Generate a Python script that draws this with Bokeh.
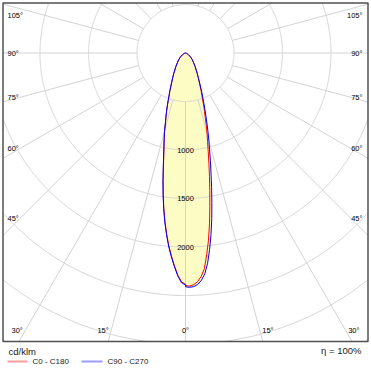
import numpy as np
from bokeh.plotting import figure
from bokeh.core.properties import value
from bokeh.embed import file_html
from bokeh.resources import INLINE

# ---------------- data (cd/klm) ----------------
gamma = [0, 1, 2, 3, 4, 5, 6, 7, 8, 9, 10, 11, 12, 13, 14, 15, 16, 17, 18, 19, 20,
         22.5, 25, 27.5, 30, 35, 40, 45, 50, 55, 60, 65, 70, 75, 80, 85, 90]
c0 = [2398, 2404, 2390, 2362, 2310, 2232, 2090, 1945, 1778, 1605, 1440, 1295,
      1160, 1042, 940, 860, 780, 695, 635, 578, 521,
      420, 340, 283, 240, 175, 130, 100, 75, 52, 35, 22, 14, 8, 4, 2, 0]
c180 = [2385, 2360, 2290, 2195, 2095, 1990, 1870, 1745, 1610, 1470, 1330, 1195,
        1080, 985, 905, 835, 750, 690, 630, 575, 521,
        420, 340, 285, 240, 175, 130, 100, 75, 52, 35, 22, 14, 8, 4, 2, 0]
c90 = [2410, 2416, 2410, 2390, 2350, 2285, 2180, 2040, 1890, 1730, 1565, 1410,
       1265, 1140, 1025, 930, 840, 755, 680, 615, 555,
       440, 350, 287, 240, 175, 130, 100, 75, 52, 35, 22, 14, 8, 4, 2, 0]
c270 = [2392, 2368, 2298, 2203, 2103, 1998, 1878, 1752, 1617, 1476, 1336, 1200,
        1085, 990, 908, 838, 753, 692, 632, 576, 522,
        420, 340, 285, 240, 175, 130, 100, 75, 52, 35, 22, 14, 8, 4, 2, 0]
ring_values = [500, 1000, 1500, 2000, 2500, 3000, 3500]
ring_labels = [1000, 1500, 2000]
spoke_step = 15
side_angles = [45, 60, 75, 90, 105]
bottom_angles = [0, 15, 30]
unit_label = "cd/klm"
legend_labels = ["C0 - C180", "C90 - C270"]
efficiency_label = "\u03b7 = 100%"

# ---------------- layout helpers ----------------
PX = 0.097          # layout pixels per cd/klm
CX, CY = 185.0, 52.5
W, H = 371, 372


def L(X, Y):
    return (X - CX) / PX, (CY - Y) / PX


FONT = value("Liberation Sans")
left, top = L(2.5, 2.5)
right, bottom = L(367.5, 341.0)
xr0, yr1 = L(0, 0)
xr1, yr0 = L(W, H)

p = figure(width=W, height=H, x_range=(xr0, xr1), y_range=(yr0, yr1),
           output_backend="svg", toolbar_location=None, min_border=0)
p.axis.visible = False
p.grid.visible = False
p.outline_line_color = None
p.background_fill_color = "white"


def outline(lside, rside):
    g = np.radians(gamma)
    lv = np.array(lside, float)
    rv = np.array(rside, float)
    xl, yl = -lv * np.sin(g), -lv * np.cos(g)
    xr, yr = rv * np.sin(g), -rv * np.cos(g)
    return np.concatenate([xl[::-1], xr]), np.concatenate([yl[::-1], yr])


xa, ya = outline(c180, c0)
xb, yb = outline(c270, c90)
fill = "#fdfcc4"
p.patch(xa, ya, fill_color=fill, line_color=None)
p.patch(xb, yb, fill_color=fill, line_color=None)

# rings clipped to the frame
grid_color = "#d4d4d4"
th = np.linspace(0, 2 * np.pi, 1441)
xs, ys = [], []
for r in ring_values:
    x = r * np.cos(th)
    y = r * np.sin(th)
    m = (x < left) | (x > right) | (y > top) | (y < bottom)
    x[m] = np.nan
    y[m] = np.nan
    xs.append(x)
    ys.append(y)
p.multi_line(xs, ys, line_color=grid_color, line_width=1)

# spokes
sx, sy = [], []
for a in range(0, 360, spoke_step):
    ar = np.radians(a)
    dx, dy = np.sin(ar), -np.cos(ar)
    ts = []
    if dx > 1e-9:
        ts.append(right / dx)
    if dx < -1e-9:
        ts.append(left / dx)
    if dy > 1e-9:
        ts.append(top / dy)
    if dy < -1e-9:
        ts.append(bottom / dy)
    t = min(ts)
    r0 = ring_values[0]
    sx.append([r0 * dx, t * dx])
    sy.append([r0 * dy, t * dy])
p.multi_line(sx, sy, line_color=grid_color, line_width=1)

# curves
p.line(xa, ya, line_color="#ff0000", line_width=1)
p.line(xb, yb, line_color="#0000ff", line_width=1)

# frame
p.quad(left=[left], right=[right], top=[top], bottom=[bottom],
       fill_color=None, line_color="#505050", line_width=1.5)

# ring labels
p.text(x=[0] * len(ring_labels), y=[-v for v in ring_labels],
       text=[str(v) for v in ring_labels], text_font=FONT,
       text_font_size="7.5px", text_align="center", text_baseline="middle",
       text_color="#000000")

# angle labels on the sides
ymax = L(0, 15)[1]
sy_lab = []
for a in side_angles:
    ar = np.radians(a)
    yv = -(165 / PX) * np.cos(ar) / np.sin(ar)
    sy_lab.append(min(yv, ymax))
txt = [f"{a}\u00b0" for a in side_angles]
lab_size = "7.5px"
lab_color = "#000000"
p.text(x=[L(7, 0)[0]] * len(side_angles), y=sy_lab, text=txt, text_font=FONT,
       text_font_size=lab_size, text_align="left", text_baseline="middle",
       text_color=lab_color)
p.text(x=[L(362, 0)[0]] * len(side_angles), y=sy_lab, text=txt, text_font=FONT,
       text_font_size=lab_size, text_align="right", text_baseline="middle",
       text_color=lab_color)

# angle labels at the bottom
yb_lab = L(0, 330)[1]
for a in bottom_angles:
    sxv = -yb_lab * np.tan(np.radians(a))
    if a == 0:
        p.text(x=[0], y=[yb_lab], text=[f"{a}\u00b0"], text_font=FONT,
               text_font_size=lab_size, text_align="center",
               text_baseline="middle", text_color=lab_color)
    else:
        p.text(x=[-(sxv + 25)], y=[yb_lab], text=[f"{a}\u00b0"], text_font=FONT,
               text_font_size=lab_size, text_align="right",
               text_baseline="middle", text_color=lab_color)
        p.text(x=[sxv + 25], y=[yb_lab], text=[f"{a}\u00b0"], text_font=FONT,
               text_font_size=lab_size, text_align="left",
               text_baseline="middle", text_color=lab_color)

# legend / footer
ux, uy = L(8, 351)
p.text(x=[ux], y=[uy], text=[unit_label], text_font=FONT, text_font_size="9.5px",
       text_align="left", text_baseline="middle", text_color="#202020")
ex, ey = L(361, 350)
p.text(x=[ex], y=[ey], text=[efficiency_label], text_font=FONT,
       text_font_size="9.5px", text_align="right", text_baseline="middle",
       text_color="#202020")
leg_colors = ["#ff9c9c", "#9c9cff"]
leg_x = [(7, 27, 32), (81, 102, 107)]
for (x0, x1, xt), col, lab in zip(leg_x, leg_colors, legend_labels):
    a0, yy = L(x0, 361)
    a1, _ = L(x1, 361)
    at, _ = L(xt, 361)
    p.line([a0, a1], [yy, yy], line_color=col, line_width=2)
    p.text(x=[at], y=[yy], text=[lab], text_font=FONT, text_font_size="8px",
           text_align="left", text_baseline="middle", text_color="#202020")

open("out.html", "w").write(file_html(p, INLINE))
